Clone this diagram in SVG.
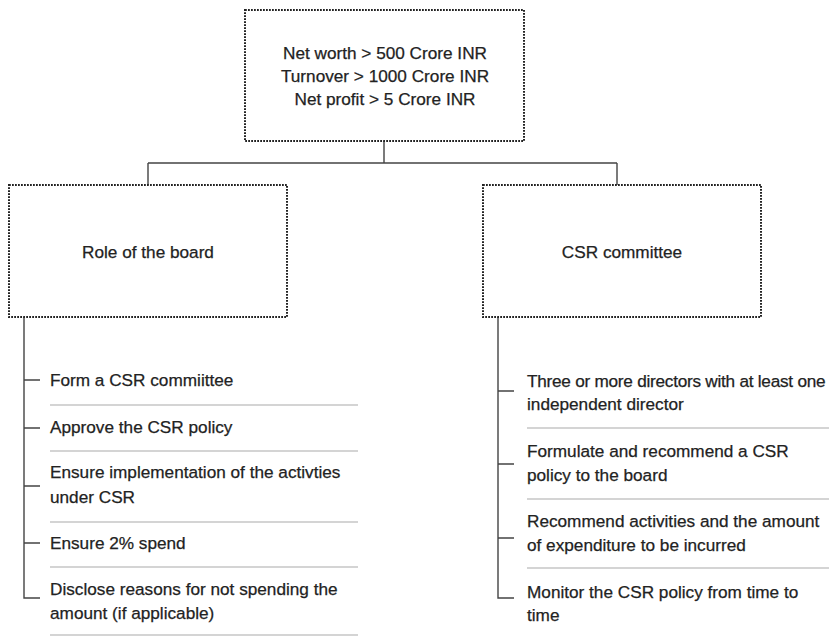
<svg xmlns="http://www.w3.org/2000/svg" width="829" height="636" viewBox="0 0 829 636">
<style>
  .box{fill:#fff;stroke:#222;stroke-width:2;stroke-dasharray:1.8 1.2}
  .t{font-family:"Liberation Sans",Arial,sans-serif;font-size:17.2px;fill:#222;stroke:#222;stroke-width:0.25}
  .c{text-anchor:middle}
  .ln{stroke:#444;stroke-width:1.4;fill:none}
  .sep{stroke:#aaa;stroke-width:1.2}
</style>
<rect width="829" height="636" fill="#fff"/>
<g id="connectors">
  <path class="ln" d="M384 141 V163 M148 163 H617 M148 163 V185 M617 163 V185"/>
  <path class="ln" d="M24 317 V598 H40 M24 380 H40 M24 428 H40 M24 486 H40 M24 543 H40"/>
  <path class="ln" d="M498 317 V598 H514 M498 391 H514 M498 464 H514 M498 538 H514"/>
</g>
<g id="top">
  <rect class="box" x="245" y="10" width="279" height="131"/>
  <text class="t c" x="385" y="59">Net worth &gt; 500 Crore INR</text>
  <text class="t c" x="385" y="82">Turnover &gt; 1000 Crore INR</text>
  <text class="t c" x="385" y="105">Net profit &gt; 5 Crore INR</text>
</g>
<g id="board">
  <rect class="box" x="9" y="185" width="278" height="132"/>
  <text class="t c" x="148" y="258">Role of the board</text>
</g>
<g id="committee">
  <rect class="box" x="483" y="185" width="278" height="132"/>
  <text class="t c" x="622" y="258">CSR committee</text>
</g>
<g id="board-list">
  <text class="t" x="50" y="386">Form a CSR commiittee</text>
  <line class="sep" x1="50" y1="405" x2="358" y2="405"/>
  <text class="t" x="50" y="433">Approve the CSR policy</text>
  <line class="sep" x1="50" y1="451" x2="358" y2="451"/>
  <text class="t" x="50" y="478">Ensure implementation of the activties</text>
  <text class="t" x="50" y="503">under CSR</text>
  <line class="sep" x1="50" y1="522" x2="358" y2="522"/>
  <text class="t" x="50" y="549">Ensure 2% spend</text>
  <line class="sep" x1="50" y1="567" x2="358" y2="567"/>
  <text class="t" x="50" y="595">Disclose reasons for not spending the</text>
  <text class="t" x="50" y="619">amount (if applicable)</text>
  <line class="sep" x1="50" y1="635" x2="358" y2="635"/>
</g>
<g id="committee-list">
  <text class="t" x="527" y="387" letter-spacing="-0.25">Three or more directors with at least one</text>
  <text class="t" x="527" y="410">independent director</text>
  <line class="sep" x1="527" y1="428" x2="829" y2="428"/>
  <text class="t" x="527" y="457">Formulate and recommend a CSR</text>
  <text class="t" x="527" y="481">policy to the board</text>
  <line class="sep" x1="527" y1="499" x2="829" y2="499"/>
  <text class="t" x="527" y="527">Recommend activities and the amount</text>
  <text class="t" x="527" y="551">of expenditure to be incurred</text>
  <line class="sep" x1="527" y1="568" x2="829" y2="568"/>
  <text class="t" x="527" y="598">Monitor the CSR policy from time to</text>
  <text class="t" x="527" y="621">time</text>
</g>
</svg>
